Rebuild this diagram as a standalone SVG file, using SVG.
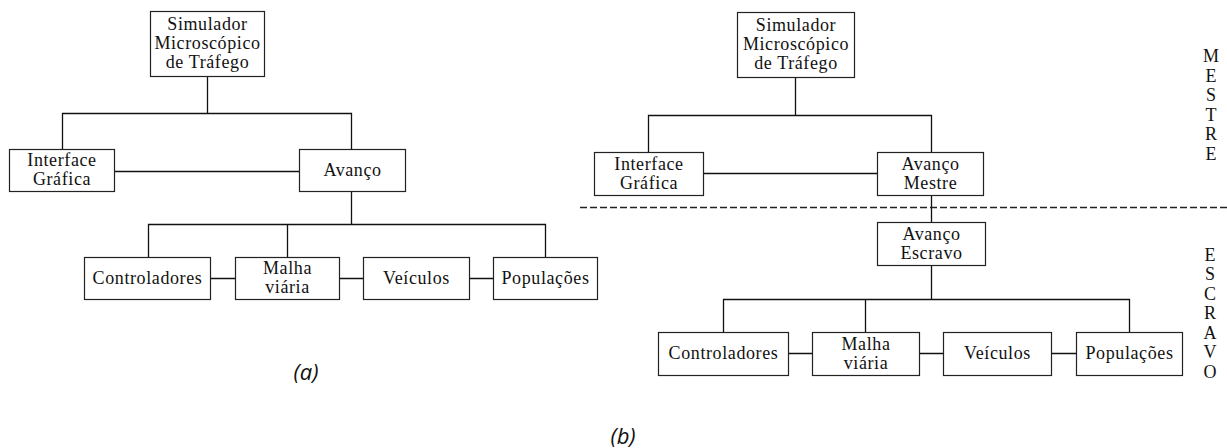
<svg xmlns="http://www.w3.org/2000/svg" width="1227" height="448" viewBox="0 0 1227 448">
  <style>
    .box { fill: #fff; stroke: #222; stroke-width: 1.2; }
    .lbl { font-family: "Liberation Serif", "Times New Roman", serif; font-size: 18px; letter-spacing: 0.6px; fill: #111; text-anchor: middle; }
    .side { font-family: "Liberation Serif", "Times New Roman", serif; font-size: 18px; fill: #111; text-anchor: middle; }
    .cap { font-family: "Open Sans", "DejaVu Sans", sans-serif; font-style: italic; font-size: 22px; fill: #111; text-anchor: middle; }
    .wire { fill: none; stroke: #111; stroke-width: 1.3; }
    .dash { fill: none; stroke: #222; stroke-width: 1.3; stroke-dasharray: 7 3; }
  </style>

  <!-- connectors -->
  <g id="connectors">
    <!-- (a) -->
    <path class="wire" d="M207.5 76.5 V113.5 M62.5 149.5 V113.5 H351.5 V149.5"/>
    <path class="wire" d="M114.5 171.5 H299.5"/>
    <path class="wire" d="M351.5 191.5 V224.5 M148.5 257.5 V224.5 H545.5 V257.5 M287.5 224.5 V257.5"/>
    <path class="wire" d="M210.5 278.5 H235.5 M339.5 278.5 H363.5 M469.5 278.5 H493.5"/>
    <!-- (b) -->
    <path class="wire" d="M795.5 77.5 V115.5 M648.5 152.5 V115.5 H931.5 V152.5"/>
    <path class="wire" d="M703.5 173.5 H877.5"/>
    <path class="wire" d="M931.5 195.5 V222.5 M931.5 265.5 V299.5 M723.5 332.5 V299.5 H1129.5 V332.5 M865.5 299.5 V332.5"/>
    <path class="wire" d="M788.5 353.5 H812.5 M919.5 353.5 H943.5 M1051.5 353.5 H1076.5"/>
    <path class="dash" d="M580 207.5 H1227"/>
  </g>

  <!-- (a) single-process structure -->
  <g id="a-simulador">
    <rect class="box" x="150.5" y="11.5" width="114" height="65"/>
    <text class="lbl" x="207.5" y="30">Simulador</text>
    <text class="lbl" x="207.5" y="49">Microscópico</text>
    <text class="lbl" x="207.5" y="68">de Tráfego</text>
  </g>
  <g id="a-interface">
    <rect class="box" x="9.5" y="149.5" width="105" height="42"/>
    <text class="lbl" x="62" y="166">Interface</text>
    <text class="lbl" x="62" y="185">Gráfica</text>
  </g>
  <g id="a-avanco">
    <rect class="box" x="299.5" y="149.5" width="106" height="42"/>
    <text class="lbl" x="352.5" y="176">Avanço</text>
  </g>
  <g id="a-controladores">
    <rect class="box" x="84.5" y="257.5" width="126" height="42"/>
    <text class="lbl" x="147.5" y="284">Controladores</text>
  </g>
  <g id="a-malha">
    <rect class="box" x="235.5" y="257.5" width="104" height="42"/>
    <text class="lbl" x="287.5" y="274">Malha</text>
    <text class="lbl" x="287.5" y="293">viária</text>
  </g>
  <g id="a-veiculos">
    <rect class="box" x="363.5" y="257.5" width="106" height="42"/>
    <text class="lbl" x="416.5" y="284">Veículos</text>
  </g>
  <g id="a-populacoes">
    <rect class="box" x="493.5" y="257.5" width="104" height="42"/>
    <text class="lbl" x="545.5" y="284">Populações</text>
  </g>
  <text class="cap" x="306" y="380">(a)</text>

  <!-- (b) master / slave structure -->
  <g id="b-simulador">
    <rect class="box" x="737.5" y="12.5" width="117" height="65"/>
    <text class="lbl" x="796" y="31">Simulador</text>
    <text class="lbl" x="796" y="50">Microscópico</text>
    <text class="lbl" x="796" y="69">de Tráfego</text>
  </g>
  <g id="b-interface">
    <rect class="box" x="594.5" y="152.5" width="109" height="43"/>
    <text class="lbl" x="649" y="170">Interface</text>
    <text class="lbl" x="649" y="189">Gráfica</text>
  </g>
  <g id="b-avanco-mestre">
    <rect class="box" x="877.5" y="152.5" width="106" height="43"/>
    <text class="lbl" x="930.5" y="170">Avanço</text>
    <text class="lbl" x="930.5" y="189">Mestre</text>
  </g>
  <g id="b-avanco-escravo">
    <rect class="box" x="877.5" y="222.5" width="108" height="43"/>
    <text class="lbl" x="931.5" y="240">Avanço</text>
    <text class="lbl" x="931.5" y="259">Escravo</text>
  </g>
  <g id="b-controladores">
    <rect class="box" x="658.5" y="332.5" width="130" height="43"/>
    <text class="lbl" x="723.5" y="359">Controladores</text>
  </g>
  <g id="b-malha">
    <rect class="box" x="812.5" y="332.5" width="107" height="43"/>
    <text class="lbl" x="866" y="350">Malha</text>
    <text class="lbl" x="866" y="369">viária</text>
  </g>
  <g id="b-veiculos">
    <rect class="box" x="943.5" y="332.5" width="108" height="43"/>
    <text class="lbl" x="997.5" y="359">Veículos</text>
  </g>
  <g id="b-populacoes">
    <rect class="box" x="1076.5" y="332.5" width="106" height="43"/>
    <text class="lbl" x="1129.5" y="359">Populações</text>
  </g>

  <!-- vertical side labels -->
  <g id="mestre-label">
    <text class="side" x="1211" y="62">M</text>
    <text class="side" x="1211" y="81.6">E</text>
    <text class="side" x="1211" y="101.2">S</text>
    <text class="side" x="1211" y="120.8">T</text>
    <text class="side" x="1211" y="140.4">R</text>
    <text class="side" x="1211" y="160">E</text>
  </g>
  <g id="escravo-label">
    <text class="side" x="1210" y="260.5">E</text>
    <text class="side" x="1210" y="280">S</text>
    <text class="side" x="1210" y="299.6">C</text>
    <text class="side" x="1210" y="319.2">R</text>
    <text class="side" x="1210" y="338.8">A</text>
    <text class="side" x="1210" y="358.4">V</text>
    <text class="side" x="1210" y="378">O</text>
  </g>
  <text class="cap" x="623" y="444">(b)</text>
</svg>
